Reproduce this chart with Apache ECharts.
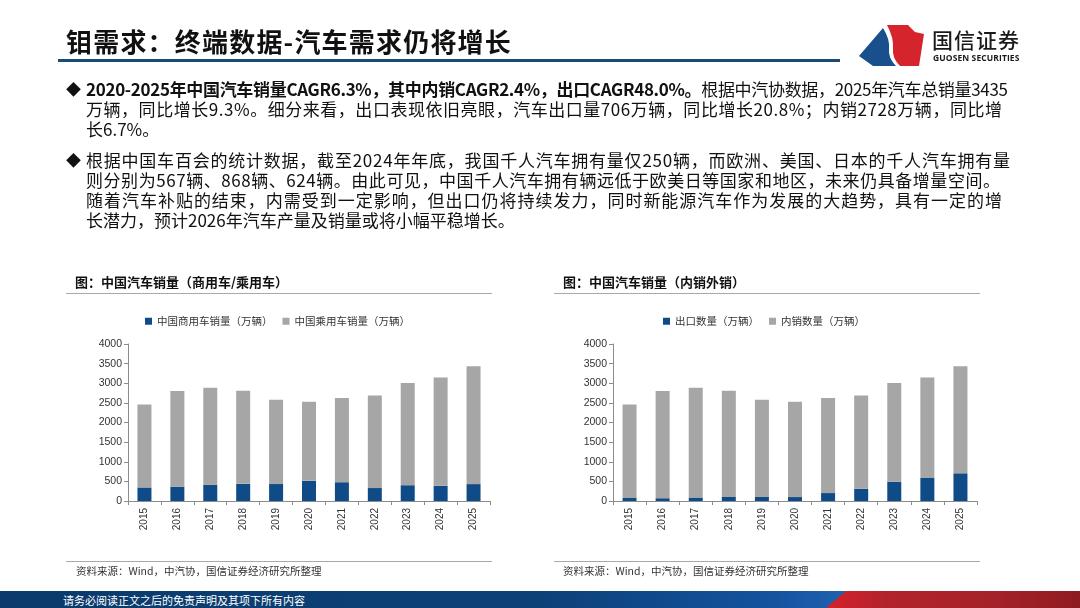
<!DOCTYPE html>
<html>
<head>
<meta charset="utf-8">
<script src="https://cdn.jsdelivr.net/npm/echarts@6/dist/echarts.min.js"></script>
<style>
  html, body { margin: 0; padding: 0; background: #fff; }
  #page { position: relative; width: 1080px; height: 608px; overflow: hidden; background: #fff;
          font-family: "Noto Sans CJK SC", "Noto Sans", sans-serif; color: #111; }
  #chart { position: absolute; left: 0; top: 0; width: 1080px; height: 608px; }
  .abs { position: absolute; white-space: nowrap; }
  #title { left: 66px; top: 24px; font-size: 26px; font-weight: bold; line-height: 34px; color: #111; letter-spacing: 1.2px; }
  #titleLine { left: 58px; top: 59px; width: 782px; height: 3px; background: #1c4a78; }
  .ln { position: absolute; left: 86px; font-size: 17px; line-height: 20px; height: 20px; white-space: nowrap; color: #111; }
  .dia { position: absolute; left: 66px; font-size: 15px; line-height: 20px; color: #111; }
  .ctitle { position: absolute; font-size: 13px; font-weight: bold; line-height: 16px; color: #111; white-space: nowrap; }
  .hline { position: absolute; height: 1px; background: #a9a9a9; }
  .src { position: absolute; font-size: 10.5px; line-height: 14px; color: #333; white-space: nowrap; }
  #footer { position: absolute; left: 0; top: 591px; width: 1080px; height: 17px;
            background: linear-gradient(to right, #0b3a6b 0%, #0c4178 50%, #1553a0 72%, #1e61ae 78%); }
  #footerRed { position: absolute; left: 0; top: 591px; width: 1080px; height: 17px;
            clip-path: polygon(846px 0, 1080px 0, 1080px 17px, 826px 17px);
            background: linear-gradient(to right, #d3212b 0%, #d3212b 77%, #b3232b 82%, #a52229 92%, #8e1b20 100%); }
  #footText { position: absolute; left: 63px; top: 592px; font-size: 11px; line-height: 16px; color: #fff; white-space: nowrap; }
  #logoCn { position: absolute; left: 932px; top: 27px; font-size: 21px; line-height: 24px; color: #1a1a1a; letter-spacing: 1px; font-weight: 500; }
  #logoEn { position: absolute; left: 933px; top: 52px; font-size: 8.5px; line-height: 11px; color: #1a1a1a; font-weight: bold; font-family: "Open Sans", "Liberation Sans", sans-serif; letter-spacing: 0.1px; }
</style>
</head>
<body>
<div id="page">
  <div id="chart"></div>

  <div id="title" class="abs">钼需求：终端数据-汽车需求仍将增长</div>
  <div id="titleLine" class="abs"></div>

  <svg class="abs" style="left:856px; top:22px;" width="72" height="46" viewBox="0 0 72 46">
    <path d="M3,34 L27,6 Q34,17 33,27 Q32,36 40,44 L17,44 Z" fill="#1a4f8e"/>
    <path d="M31,3 L52,3 L59,10 L68,12 L63,44 L44,44 Q36,36 37,27 Q38,16 31,3 Z" fill="#d5242c"/>
  </svg>
  <div id="logoCn">国信证券</div>
  <div id="logoEn">GUOSEN SECURITIES</div>

  <div class="dia" style="top:79px;">◆</div>
  <div class="ln fit" data-w="922" style="top:79px;"><span><b>2020-2025年中国汽车销量CAGR6.3%，其中内销CAGR2.4%，出口CAGR48.0%。</b>根据中汽协数据，2025年汽车总销量3435</span></div>
  <div class="ln fit" data-w="916" style="top:99px;"><span>万辆，同比增长9.3%。细分来看，出口表现依旧亮眼，汽车出口量706万辆，同比增长20.8%；内销2728万辆，同比增</span></div>
  <div class="ln" style="top:119px;">长6.7%。</div>

  <div class="dia" style="top:150px;">◆</div>
  <div class="ln fit" data-w="924" style="top:150px;"><span>根据中国车百会的统计数据，截至2024年年底，我国千人汽车拥有量仅250辆，而欧洲、美国、日本的千人汽车拥有量</span></div>
  <div class="ln fit" data-w="914" style="top:170px;"><span>则分别为567辆、868辆、624辆。由此可见，中国千人汽车拥有辆远低于欧美日等国家和地区，未来仍具备增量空间。</span></div>
  <div class="ln fit" data-w="916" style="top:190px;"><span>随着汽车补贴的结束，内需受到一定影响，但出口仍将持续发力，同时新能源汽车作为发展的大趋势，具有一定的增</span></div>
  <div class="ln" style="top:210px;">长潜力，预计2026年汽车产量及销量或将小幅平稳增长。</div>

  <div class="ctitle" style="left:75px; top:274px;">图：中国汽车销量（商用车/乘用车）</div>
  <div class="hline" style="left:66px; top:293px; width:426px;"></div>
  <div class="hline" style="left:66px; top:561px; width:426px;"></div>
  <div class="src" style="left:76px; top:564px;">资料来源：Wind，中汽协，国信证券经济研究所整理</div>

  <div class="ctitle" style="left:563px; top:274px;">图：中国汽车销量（内销外销）</div>
  <div class="hline" style="left:554px; top:293px; width:426px;"></div>
  <div class="hline" style="left:554px; top:561px; width:426px;"></div>
  <div class="src" style="left:563px; top:564px;">资料来源：Wind，中汽协，国信证券经济研究所整理</div>

  <div id="footer"></div>
  <div id="footerRed"></div>
  <div id="footText">请务必阅读正文之后的免责声明及其项下所有内容</div>
</div>

<script>
// fit each full text line to its measured width via letter-spacing
document.querySelectorAll('.fit').forEach(function (el) {
  var span = el.firstElementChild;
  var target = parseFloat(el.getAttribute('data-w'));
  var natural = span.getBoundingClientRect().width;
  var n = span.textContent.length;
  if (n > 1) el.style.letterSpacing = ((target - natural) / (n - 1)).toFixed(3) + 'px';
});

// ---- data (万辆) ----
const years = ['2015','2016','2017','2018','2019','2020','2021','2022','2023','2024','2025'];
const commercialSales = [345, 365, 416, 437, 432, 513, 479, 330, 403, 387, 430];
const passengerSales  = [2115, 2438, 2472, 2371, 2145, 2018, 2148, 2356, 2606, 2757, 3005];
const exportSales     = [76, 71, 89, 104, 102, 100, 202, 311, 491, 586, 706];
const domesticSales   = [2384, 2732, 2799, 2704, 2475, 2431, 2425, 2375, 2518, 2558, 2729];
const yTicks = { min: 0, max: 4000, interval: 500 };

const BLUE = '#0f4c87';
const GRAY = '#a6a6a6';
const AXIS = '#8c8c8c';
const LABEL_FONT = '"Liberation Sans", Arial, "Noto Sans CJK SC", sans-serif';

function xAxisFor(gridIndex) {
  return {
    type: 'category', gridIndex: gridIndex, data: years,
    axisLine: { show: true, lineStyle: { color: AXIS, width: 1 } },
    axisTick: { show: true, alignWithLabel: false, length: 4, lineStyle: { color: AXIS } },
    axisLabel: { rotate: 90, fontSize: 10, color: '#333', margin: 7, fontFamily: LABEL_FONT, interval: 0 },
    splitLine: { show: false }
  };
}
function yAxisFor(gridIndex) {
  return {
    type: 'value', gridIndex: gridIndex, min: yTicks.min, max: yTicks.max, interval: yTicks.interval,
    axisLine: { show: true, lineStyle: { color: AXIS, width: 1 } },
    axisTick: { show: true, length: 4, lineStyle: { color: AXIS } },
    axisLabel: { fontSize: 10.5, color: '#333', margin: 6, fontFamily: LABEL_FONT,
                 formatter: function (v) { return String(v); } },
    splitLine: { show: false }
  };
}
const legendText = { fontSize: 10.5, color: '#333', fontFamily: '"Noto Sans CJK SC", sans-serif' };

const chart = echarts.init(document.getElementById('chart'), null, { renderer: 'canvas' });
chart.setOption({
  animation: false,
  backgroundColor: 'transparent',
  grid: [
    { left: 128, top: 344, width: 362, height: 157, containLabel: false },
    { left: 613, top: 344, width: 364, height: 157, containLabel: false }
  ],
  legend: [
    { left: 145, top: 316, padding: 0, itemWidth: 7, itemHeight: 7, itemGap: 10, icon: 'rect',
      textStyle: legendText, data: ['中国商用车销量（万辆）', '中国乘用车销量（万辆）'] },
    { left: 663, top: 316, padding: 0, itemWidth: 7, itemHeight: 7, itemGap: 10, icon: 'rect',
      textStyle: legendText, data: ['出口数量（万辆）', '内销数量（万辆）'] }
  ],
  xAxis: [xAxisFor(0), xAxisFor(1)],
  yAxis: [yAxisFor(0), yAxisFor(1)],
  series: [
    { name: '中国商用车销量（万辆）', type: 'bar', stack: 'a', xAxisIndex: 0, yAxisIndex: 0,
      barWidth: 14, itemStyle: { color: BLUE }, data: commercialSales },
    { name: '中国乘用车销量（万辆）', type: 'bar', stack: 'a', xAxisIndex: 0, yAxisIndex: 0,
      barWidth: 14, itemStyle: { color: GRAY }, data: passengerSales },
    { name: '出口数量（万辆）', type: 'bar', stack: 'b', xAxisIndex: 1, yAxisIndex: 1,
      barWidth: 14, itemStyle: { color: BLUE }, data: exportSales },
    { name: '内销数量（万辆）', type: 'bar', stack: 'b', xAxisIndex: 1, yAxisIndex: 1,
      barWidth: 14, itemStyle: { color: GRAY }, data: domesticSales }
  ]
});
</script>
</body>
</html>
